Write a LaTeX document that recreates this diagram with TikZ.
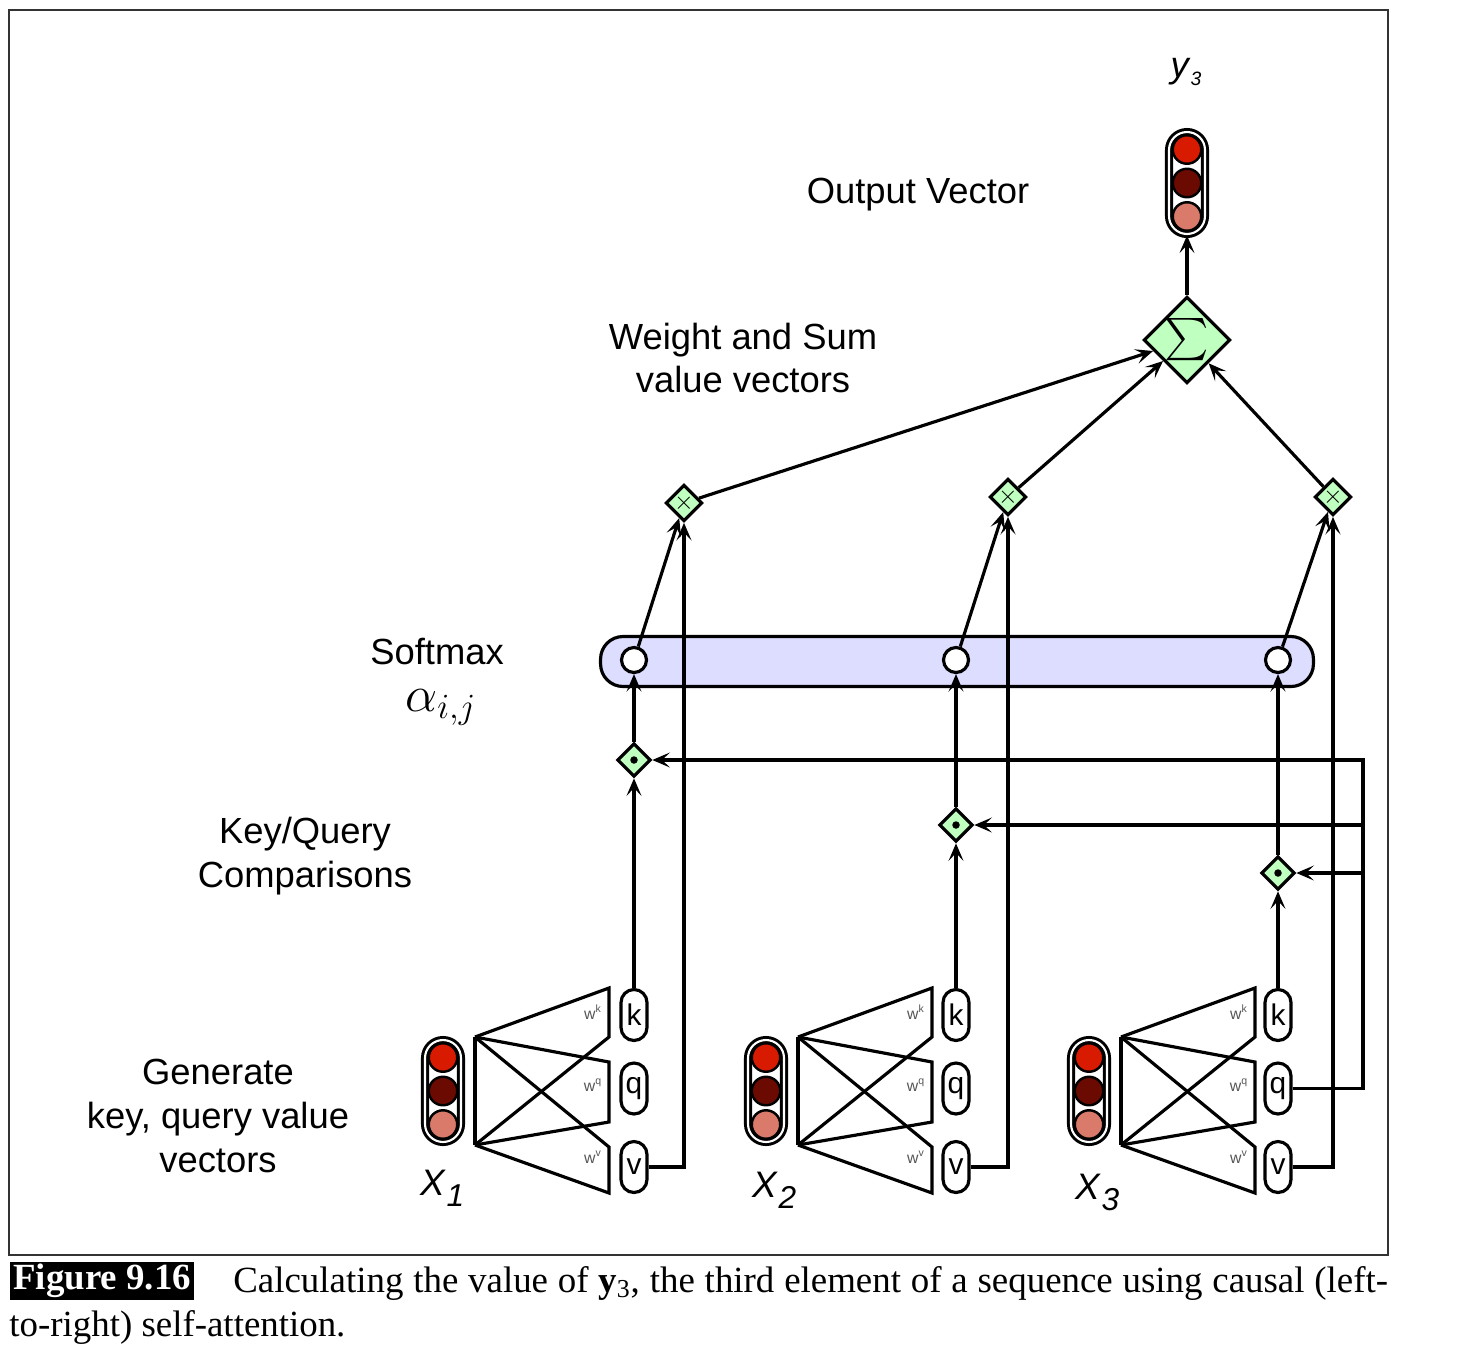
\documentclass[tikz,border=0pt]{standalone}
\usepackage{fontspec}
\usepackage{graphicx}
\setmainfont{Liberation Sans}
\newfontfamily\capfont{Liberation Serif}
\usetikzlibrary{arrows.meta,shapes.geometric,calc}
\definecolor{vred}{HTML}{D81B00}
\definecolor{vdark}{HTML}{6B0A00}
\definecolor{vpink}{HTML}{D97A6A}
\definecolor{dgreen}{HTML}{BFFFC0}
\definecolor{lav}{HTML}{DDDDFF}
\definecolor{wgray}{HTML}{555555}
\newcommand\myvector[3]{%
  \node[capsule] (#1) at (#2,#3) {};
  \node[vcirc,fill=vred] (#1a) at (#2,{#3-33.5}) {};
  \node[vcirc,fill=vdark] (#1b) at (#2,#3) {};
  \node[vcirc,fill=vpink] (#1c) at (#2,{#3+33.5}) {};
}
\newcommand\mytrap[2]{%
  \draw[lw] ({#1+32},1037) -- ({#1+32},1145);
  \draw[lw] ({#1+32},1037) -- ({#1+166},988) -- ({#1+166},1037) -- ({#1+32},1145);
  \draw[lw] ({#1+32},1037) -- ({#1+166},1062) -- ({#1+166},1122) -- ({#1+32},1145);
  \draw[lw] ({#1+32},1037) -- ({#1+166},1147) -- ({#1+166},1193) -- ({#1+32},1145);
  \node[wlab] (wk#2) at ({#1+150},1012) {w\textsuperscript{k}};
  \node[wlab] (wq#2) at ({#1+150},1085) {w\textsuperscript{q}};
  \node[wlab] (wv#2) at ({#1+150},1157) {w\textsuperscript{v}};
}
\begin{document}
\begin{tikzpicture}[x=0.02cm,y=-0.02cm,
 lw/.style={line width=1.8pt},
 arr/.style={lw,-{Stealth[length=10pt,width=8.5pt,inset=4.5pt]}},
 lab/.style={font=\fontsize{20.7}{25}\selectfont,align=center,inner sep=0pt},
 capsule/.style={rectangle,rounded corners=0.36cm,minimum width=0.72cm,minimum height=2.04cm,draw,line width=1.7pt,double=white,double distance=1.2pt},
 vcirc/.style={circle,draw,line width=1.4pt,minimum size=0.57cm,inner sep=0pt},
 pill/.style={rectangle,rounded corners=0.26cm,draw,lw,minimum width=0.52cm,minimum height=1.02cm,inner sep=0pt,font=\fontsize{17}{17}\selectfont},
 sdia/.style={diamond,draw,lw,fill=dgreen,minimum size=0.67cm,inner sep=0pt},
 scirc/.style={circle,draw,lw,fill=white,minimum size=0.5cm,inner sep=0pt},
 wlab/.style={font=\fontsize{9}{9}\selectfont,text=wgray,inner sep=0pt},
 xlab/.style={font=\fontsize{21}{21}\selectfont\itshape,inner sep=0pt},
 capf/.style={font=\capfont\fontsize{21}{25}\selectfont,inner sep=0pt}
]
\useasboundingbox (0,0) rectangle (1471,1363);
\draw[line width=0.8pt,black!80] (9,10) rectangle (1388,1255);

% softmax bar
\node[rectangle,rounded corners=0.45cm,draw,lw,fill=lav,minimum width=14.26cm,minimum height=1.0cm] (bar) at (957,661.5) {};

% vectors
\myvector{yv}{1187}{183}
\myvector{xa}{443}{1091}
\myvector{xb}{766}{1091}
\myvector{xc}{1089}{1091}

% trapezoids
\mytrap{443}{1}
\mytrap{766}{2}
\mytrap{1089}{3}

% pills
\node[pill] (k1) at (634,1015) {k};
\node[pill] (q1) at (634,1088.5) {q};
\node[pill] (v1) at (634,1167) {v};
\node[pill] (k2) at (956,1015) {k};
\node[pill] (q2) at (956,1088.5) {q};
\node[pill] (v2) at (956,1167) {v};
\node[pill] (k3) at (1278,1015) {k};
\node[pill] (q3) at (1278,1088.5) {q};
\node[pill] (v3) at (1278,1167) {v};

% dot diamonds
\node[sdia] (d1) at (634,760) {};
\node[sdia] (d2) at (956,825) {};
\node[sdia] (d3) at (1278,873) {};
\fill (d1) circle[radius=0.075cm];
\fill (d2) circle[radius=0.075cm];
\fill (d3) circle[radius=0.075cm];

% softmax circles
\node[scirc] (c1) at (634,660) {};
\node[scirc] (c2) at (956,660) {};
\node[scirc] (c3) at (1278,660) {};

% multiply diamonds
\node[sdia,font=\fontsize{14}{14}\selectfont] (m1) at (684,503) {$\times$};
\node[sdia,font=\fontsize{14}{14}\selectfont] (m2) at (1008,497) {$\times$};
\node[sdia,font=\fontsize{14}{14}\selectfont] (m3) at (1333,497) {$\times$};

% sigma
\node[diamond,draw,lw,fill=dgreen,minimum size=1.68cm,inner sep=0pt] (sig) at (1187,340) {\scalebox{2.4}{$\sum$}};

% connectors
\draw[arr] (k1) -- (d1);
\draw[arr] (k2) -- (d2);
\draw[arr] (k3) -- (d3);
\draw[arr] (d1) -- (c1);
\draw[arr] (d2) -- (c2);
\draw[arr] (d3) -- (c3);
\draw[arr] (c1) -- (m1);
\draw[arr] (c2) -- (m2);
\draw[arr] (c3) -- (m3);
\draw[arr] (v1) -| (m1);
\draw[arr] (v2) -| (m2);
\draw[arr] (v3) -| (m3);
\draw[arr] (m1) -- (sig);
\draw[arr] (m2) -- (sig);
\draw[arr] (m3) -- (sig);
\draw[arr] (sig) -- (yv);
\coordinate (qr) at (1363,760);
\draw[arr] (q3) -| (qr) -- (d1);
\draw[arr] (qr |- d2) -- (d2);
\draw[arr] (qr |- d3) -- (d3);

% labels
\node[lab] (ylab) at (1186,72) {\textit{y}\raisebox{-0.2em}{\fontsize{11}{11}\selectfont\textit{3}}};
\node[lab] (outlab) at (918,195) {Output Vector};
\node[lab] (wslab) at (743,358) {Weight and Sum\\value vectors};
\node[lab] (smlab) at (437,652) {Softmax};
\node[lab,anchor=base] (alab) at (441,711) {\scalebox{1.4}{$\alpha_{i,j}$}};
\node[lab] (kqlab) at (305,856) {Key/Query\\Comparisons};
\node[lab] (genlab) at (218,1116) {Generate\\key, query value\\vectors};
\node[xlab,anchor=base west] (x1lab) at (420,1195) {X\kern1pt\raisebox{-0.3em}{\fontsize{18}{18}\selectfont 1}};
\node[xlab,anchor=base west] (x2lab) at (752,1197) {X\kern1pt\raisebox{-0.3em}{\fontsize{18}{18}\selectfont 2}};
\node[xlab,anchor=base west] (x3lab) at (1075,1199) {X\kern1pt\raisebox{-0.3em}{\fontsize{18}{18}\selectfont 3}};

% caption
\node[fill=black,text=white,anchor=west,minimum height=0.76cm,inner xsep=0.06cm,inner ysep=0pt,font=\capfont\bfseries\fontsize{21}{25}\selectfont] (fig) at (10,1281) {Figure 9.16};
\node[capf,anchor=base west] (cap1) at (233,1292) {\makebox[23.1cm][s]{Calculating the value of \textbf{y}\textsubscript{3}, the third element of a sequence using causal (left-}};
\node[capf,anchor=base west] (cap2) at (9,1336) {to-right) self-attention.};
\end{tikzpicture}
\end{document}
